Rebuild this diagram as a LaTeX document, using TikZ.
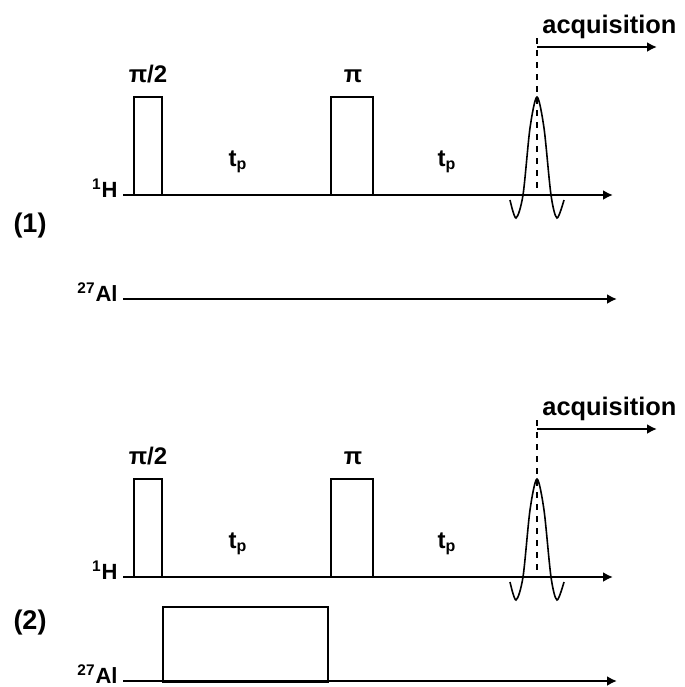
\documentclass[tikz,border=0pt]{standalone}
\usepackage{fontspec}
\setmainfont{Liberation Sans}
\usetikzlibrary{arrows.meta}
\begin{document}
\begin{tikzpicture}[x=0.5pt,y=-0.5pt, every node/.style={font=\fontsize{11}{13}\selectfont\bfseries, inner sep=0pt},
    axis/.style={line width=1pt, -{Latex[length=5pt,width=5pt]}},
    pulse/.style={line width=0.8pt},
    panellabel/.style={font=\fontsize{13.5}{15}\selectfont\bfseries},
    acqlabel/.style={font=\fontsize{12.7}{15}\selectfont\bfseries},
    delaylabel/.style={font=\fontsize{12}{14}\selectfont\bfseries}]
        \useasboundingbox (0,0) rectangle (685,687);
        % two sequences, the second shifted down by 382
        \foreach \dy/\n in {0/1,382/2}{
            \begin{scope}[yshift=-\dy*0.5pt]
            \node[anchor=base east] (h\n) at (118,197) {\textsuperscript{1}H};
            \node[anchor=base east] (al\n) at (118,301) {\textsuperscript{27}Al};
            \coordinate (hend\n) at (613,195);
            \coordinate (alend\n) at (617,299);
            \draw[axis] (h\n.base east) ++(5,-2) -- (hend\n);
            \draw[axis] (al\n.base east) ++(5,-2) -- (alend\n);
            \draw[pulse] (134,195) rectangle (162,97);
            \draw[pulse] (331,195) rectangle (373,97);
            \node[delaylabel, anchor=base] (half\n) at (148,82) {π/2};
            \node[delaylabel, anchor=base] (pi\n) at (353,82) {π};
            \node[delaylabel, anchor=base] (tpa\n) at (238,166) {t\textsubscript{p}};
            \node[delaylabel, anchor=base] (tpb\n) at (447,166) {t\textsubscript{p}};
            \draw[pulse] plot[smooth] coordinates {(510,200) (516,218) (523,195) (530,128) (537,97) (544,128) (551,195) (557,218) (564,200)};
            \coordinate (top\n) at (537,38);
            \coordinate (foot\n) at (537,195);
            \draw[dashed, line width=0.7pt] (top\n) -- (foot\n);
            \coordinate (acqa\n) at (537,47);
            \coordinate (acqb\n) at (657,47);
            \draw[axis] (acqa\n) -- (acqb\n);
            \node[acqlabel, anchor=base west] (acq\n) at (542,33) {acquisition};
            \end{scope}
        }
        \node[panellabel] (seq1) at (30,226) {(1)};
        \node[panellabel] (seq2) at (30,623) {(2)};
        % Al decoupling pulse in (2)
        \draw[pulse] (163,682) rectangle (328,607);
    \end{tikzpicture}
\end{document}
